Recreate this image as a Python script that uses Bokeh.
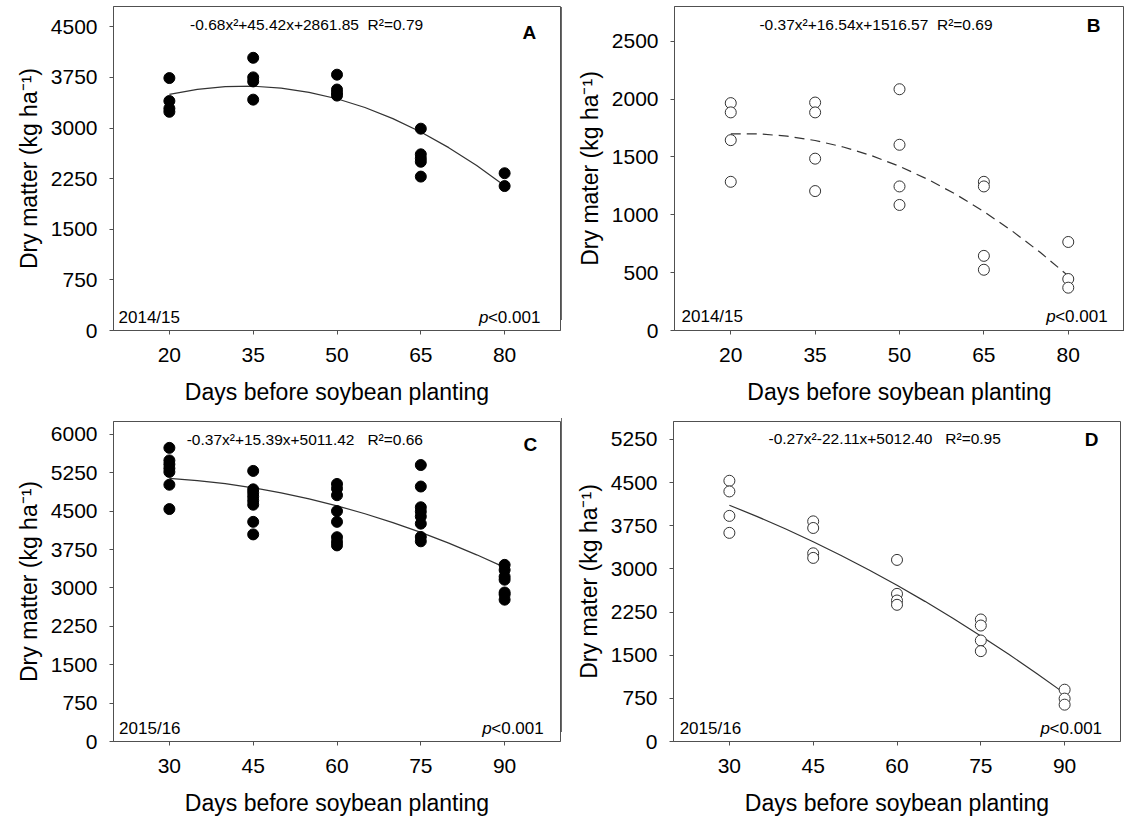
from bokeh.plotting import figure
from bokeh.models import FixedTicker, Label, Range1d, Div
from bokeh.layouts import row, column
from bokeh.embed import file_html
from bokeh.resources import INLINE

FONT = "Liberation Sans"

# ---------------- data ----------------
# Panel A (2014/15, filled)
a_x = [20, 20, 20, 20, 35, 35, 35, 35, 50, 50, 50, 50, 65, 65, 65, 65, 65, 80, 80]
a_y = [3740, 3400, 3290, 3240, 4040, 3750, 3690, 3420, 3790, 3570, 3520, 3480,
       2990, 2610, 2550, 2500, 2280, 2330, 2140]
# Panel B (2014/15, open)
b_x = [20, 20, 20, 20, 35, 35, 35, 35, 50, 50, 50, 50, 65, 65, 65, 65, 80, 80, 80]
b_y = [1965, 1885, 1645, 1285, 1970, 1885, 1485, 1205, 2085, 1605, 1245, 1085,
       1285, 1245, 645, 525, 765, 445, 370]
# Panel C (2015/16, filled)
c_x = [30] * 7 + [45] * 8 + [60] * 8 + [75] * 8 + [90] * 7
c_y = [5735, 5490, 5415, 5335, 5265, 5015, 4540,
       5285, 4925, 4860, 4785, 4705, 4625, 4290, 4045,
       5030, 4940, 4810, 4500, 4290, 3990, 3900, 3830,
       5400, 4980, 4575, 4490, 4395, 4255, 3995, 3910,
       3450, 3350, 3220, 3160, 2910, 2870, 2770]
# Panel D (2015/16, open)
d_x = [30, 30, 30, 30, 45, 45, 45, 45, 60, 60, 60, 60, 75, 75, 75, 75, 90, 90, 90]
d_y = [4530, 4345, 3920, 3625, 3825, 3710, 3270, 3190, 3155, 2565, 2450, 2375,
       2120, 2015, 1755, 1570, 900, 745, 640]

# fitted curves
curve_x_ab = [20, 25, 30, 35, 40, 45, 50, 55, 60, 65, 70, 75, 80]
curve_a = [3498, 3572, 3612, 3619, 3591, 3529, 3433, 3303, 3139, 2941, 2709, 2443, 2143]
curve_b = [1699, 1699, 1680, 1642, 1586, 1512, 1419, 1307, 1177, 1028, 861, 676, 472]
curve_x_cd = [30, 35, 40, 45, 50, 55, 60, 65, 70, 75, 80, 85, 90]
curve_c = [5140, 5097, 5035, 4955, 4856, 4739, 4603, 4449, 4276, 4084, 3875, 3646, 3400]
curve_d = [4106, 3908, 3696, 3471, 3232, 2980, 2714, 2435, 2142, 1835, 1516, 1182, 836]

x_ticks_ab = [20, 35, 50, 65, 80]
x_ticks_cd = [30, 45, 60, 75, 90]
y_ticks_a = [0, 750, 1500, 2250, 3000, 3750, 4500]
y_ticks_b = [0, 500, 1000, 1500, 2000, 2500]
y_ticks_c = [0, 750, 1500, 2250, 3000, 3750, 4500, 5250, 6000]
y_ticks_d = [0, 750, 1500, 2250, 3000, 3750, 4500, 5250]

SP2 = "\u00a0\u00a0"
SP3 = "\u00a0\u00a0\u00a0"
eq_a = "-0.68x\u00b2+45.42x+2861.85" + SP2 + "R\u00b2=0.79"
eq_b = "-0.37x\u00b2+16.54x+1516.57" + SP2 + "R\u00b2=0.69"
eq_c = "-0.37x\u00b2+15.39x+5011.42" + SP3 + "R\u00b2=0.66"
eq_d = "-0.27x\u00b2-22.11x+5012.40" + SP3 + "R\u00b2=0.95"

x_title = "Days before soybean planting"
y_title_1 = "Dry matter (kg ha\u207b\u00b9)"
y_title_2 = "Dry mater (kg ha\u207b\u00b9)"

AX = "#505050"


def panel(width, height, bl, br, bt, bb, xr, yr, xt, yt, ylab):
    p = figure(width=width, height=height, output_backend="svg", toolbar_location=None,
               x_range=Range1d(*xr), y_range=Range1d(*yr),
               min_border_left=bl, min_border_right=br, min_border_top=bt,
               min_border_bottom=bb)
    p.grid.visible = False
    p.outline_line_color = AX
    p.outline_line_width = 1
    p.background_fill_color = "white"
    p.border_fill_color = "white"
    p.xaxis.ticker = FixedTicker(ticks=xt)
    p.yaxis.ticker = FixedTicker(ticks=yt)
    for ax in (p.xaxis, p.yaxis):
        ax.axis_line_color = AX
        ax.major_tick_line_color = AX
        ax.minor_tick_line_color = None
        ax.major_tick_in = 0
        ax.major_tick_out = 4
        ax.major_label_text_font = FONT
        ax.major_label_text_font_size = "21px"
        ax.major_label_text_color = "black"
        ax.axis_label_text_font = FONT
        ax.axis_label_text_font_size = "23px"
        ax.axis_label_text_font_style = "normal"
        ax.axis_label_text_color = "black"
    p.xaxis.axis_label = x_title
    p.yaxis.axis_label = ylab
    p.xaxis.major_label_standoff = 13
    p.xaxis.axis_label_standoff = 14
    p.yaxis.major_label_standoff = 12
    p.yaxis.axis_label_standoff = 6
    return p


def texts(p, eq, eqx, eqy, letter, lx, ly, year, yx, yy, px, py):
    p.add_layout(Label(x=eqx, y=eqy, text=eq, text_font=FONT, text_font_size="15.5px",
                       text_baseline="middle", text_align="left", text_color="black"))
    p.add_layout(Label(x=lx, y=ly, text=letter, text_font=FONT, text_font_size="19px",
                       text_font_style="bold", text_baseline="middle", text_align="left",
                       text_color="black"))
    p.add_layout(Label(x=yx, y=yy, text=year, text_font=FONT, text_font_size="17px",
                       text_baseline="middle", text_align="left", text_color="black"))
    p.add_layout(Label(x=px, y=py, text="<0.001", text_font=FONT, text_font_size="17px",
                       text_baseline="middle", text_align="right", text_color="black"))
    p.add_layout(Label(x=px, y=py, x_offset=-52, text="p", text_font=FONT,
                       text_font_size="17px", text_font_style="italic",
                       text_baseline="middle", text_align="right", text_color="black"))


# Panel A
pa = panel(561, 410, 113, 1, 6, 80, (10, 90), (0, 4800), x_ticks_ab, y_ticks_a, y_title_1)
pa.line(curve_x_ab, curve_a, line_color="#333333", line_width=1.2)
pa.scatter(a_x, a_y, size=11, fill_color="black", line_color="black")
texts(pa, eq_a, 23.7, 4526, "A", 83.2, 4422, "2014/15", 10.9, 192, 86.4, 192)

# Panel B
pb = panel(562, 410, 112, 0, 5, 80, (10, 90), (0, 2800), x_ticks_ab, y_ticks_b, y_title_2)
pb.line(curve_x_ab, curve_b, line_color="#333333", line_width=1.2, line_dash="10 6")
pb.scatter(b_x, b_y, size=11, fill_color="white", line_color="#333333", line_width=1)
texts(pb, eq_b, 25.1, 2643, "B", 83.3, 2634, "2014/15", 11.25, 125, 87.0, 125)

# Panel C
pc = panel(561, 408, 113, 1, 10, 76, (20, 100), (0, 6250), x_ticks_cd, y_ticks_c, y_title_1)
pc.line(curve_x_cd, curve_c, line_color="#333333", line_width=1.2)
pc.scatter(c_x, c_y, size=11, fill_color="black", line_color="black")
texts(pc, eq_c, 33.1, 5898, "C", 93.4, 5801, "2015/16", 21.0, 259, 97.0, 259)

# Panel D
pd_ = panel(562, 408, 111, 4, 11, 76, (20, 100), (0, 5560), x_ticks_cd, y_ticks_d, y_title_2)
pd_.line(curve_x_cd, curve_d, line_color="#333333", line_width=1.2)
pd_.scatter(d_x, d_y, size=11, fill_color="white", line_color="#333333", line_width=1)
texts(pd_, eq_d, 37.0, 5263, "D", 93.6, 5239, "2015/16", 21.1, 225, 96.7, 225)

# thin separators between the panel images (as in the source figure)
sep1 = Div(width=1, height=410, margin=0, styles={
    "background": "linear-gradient(to bottom, white 0px, white 7px, #6a6a6a 7px, "
                  "#6a6a6a 320px, white 320px, white 410px)"})
sep2 = Div(width=1, height=408, margin=0, styles={
    "background": "linear-gradient(to bottom, white 0px, white 8px, #6a6a6a 8px, "
                  "#6a6a6a 322px, white 322px, white 408px)"})

layout = column(row(pa, sep1, pb), row(pc, sep2, pd_))
open("out.html", "w").write(file_html(layout, INLINE))
